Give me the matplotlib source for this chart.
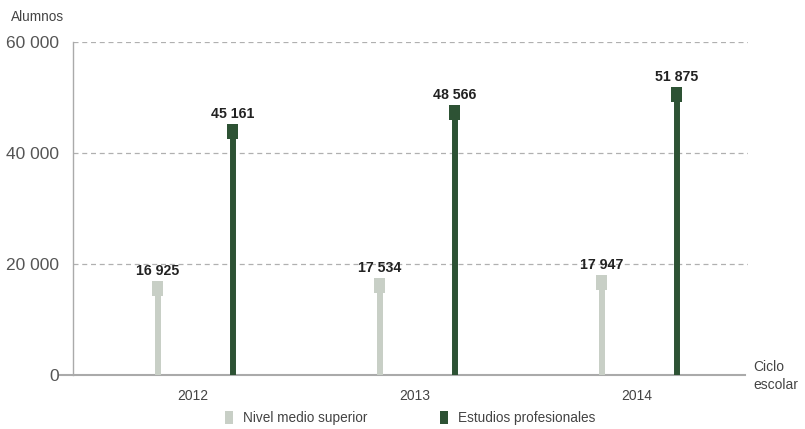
import matplotlib.pyplot as plt
from matplotlib.patches import Rectangle

plt.rcParams['font.family'] = ['Liberation Sans', 'DejaVu Sans']

# Data
years = ['2012', '2013', '2014']
medio_superior = [16925, 17534, 17947]
profesionales = [45161, 48566, 51875]

light = '#c8cfc6'
dark = '#2d5234'


def fmt(v):
    return f'{v:,}'.replace(',', ' ')


fig = plt.figure(figsize=(8.05, 4.29), dpi=100)
ax = fig.add_axes([73 / 805, 1 - 375 / 429, (748 - 73) / 805, (375 - 42) / 429])

xs = list(range(len(years)))
px = 1 / 222.0           # one pixel in data units (x)
py = 20000 / 111.0       # one pixel in data units (y)
offsets = [(-35, medio_superior, light), (40, profesionales, dark)]

for off, vals, col in offsets:
    for x, v in zip(xs, vals):
        cx = x + off * px
        ax.plot([cx, cx], [0, v - 8 * py], color=col, lw=4.3, solid_capstyle='butt', zorder=3)
        ax.add_patch(Rectangle((cx - 5.5 * px, v - 15 * py), 11 * px, 15 * py,
                               facecolor=col, edgecolor='none', zorder=4))
        ax.text(cx, v + 3 * py, fmt(v), ha='center', va='bottom', fontsize=10.2,
                fontweight='bold', color='#222222', zorder=5)

ax.set_xlim(-0.54, 2.5)
ax.set_ylim(0, 60000)
ax.set_yticks([0, 20000, 40000, 60000])
ax.set_yticklabels([fmt(t) for t in [0, 20000, 40000, 60000]], fontsize=12.5, color='#555555')
ax.set_xticks(xs)
ax.set_xticklabels(years, fontsize=10, color='#444444')
ax.tick_params(axis='both', length=0)
ax.tick_params(axis='y', pad=10)
ax.tick_params(axis='x', pad=10)

for g in [20000, 40000, 60000]:
    ax.axhline(g, color='#b0b0b0', lw=0.9, ls=(0, (4, 3)), zorder=1)

for s in ['top', 'right', 'bottom']:
    ax.spines[s].set_visible(False)
ax.spines['left'].set_color('#aaaaaa')
ax.spines['left'].set_linewidth(1)

# bottom baseline
ax.plot([-0.6, 2.485], [0, 0], color='#aaaaaa', lw=1.5, clip_on=False, zorder=2)

fig.text(11 / 805, 1 - 17 / 429, 'Alumnos', fontsize=9.8, color='#444444', va='center')
fig.text(753 / 805, 1 - 376 / 429, 'Ciclo\nescolar', fontsize=10, color='#444444',
         va='center', linespacing=1.45)

# legend
fig.patches.append(Rectangle((225 / 805, 1 - 424 / 429), 8 / 805, 13 / 429,
                             transform=fig.transFigure, facecolor=light, edgecolor='none'))
fig.text(243 / 805, 1 - 418 / 429, 'Nivel medio superior', fontsize=9.8, color='#444444', va='center')
fig.patches.append(Rectangle((440 / 805, 1 - 424 / 429), 8 / 805, 13 / 429,
                             transform=fig.transFigure, facecolor=dark, edgecolor='none'))
fig.text(458 / 805, 1 - 418 / 429, 'Estudios profesionales', fontsize=9.8, color='#444444', va='center')

fig.savefig('out.png', dpi=100)
